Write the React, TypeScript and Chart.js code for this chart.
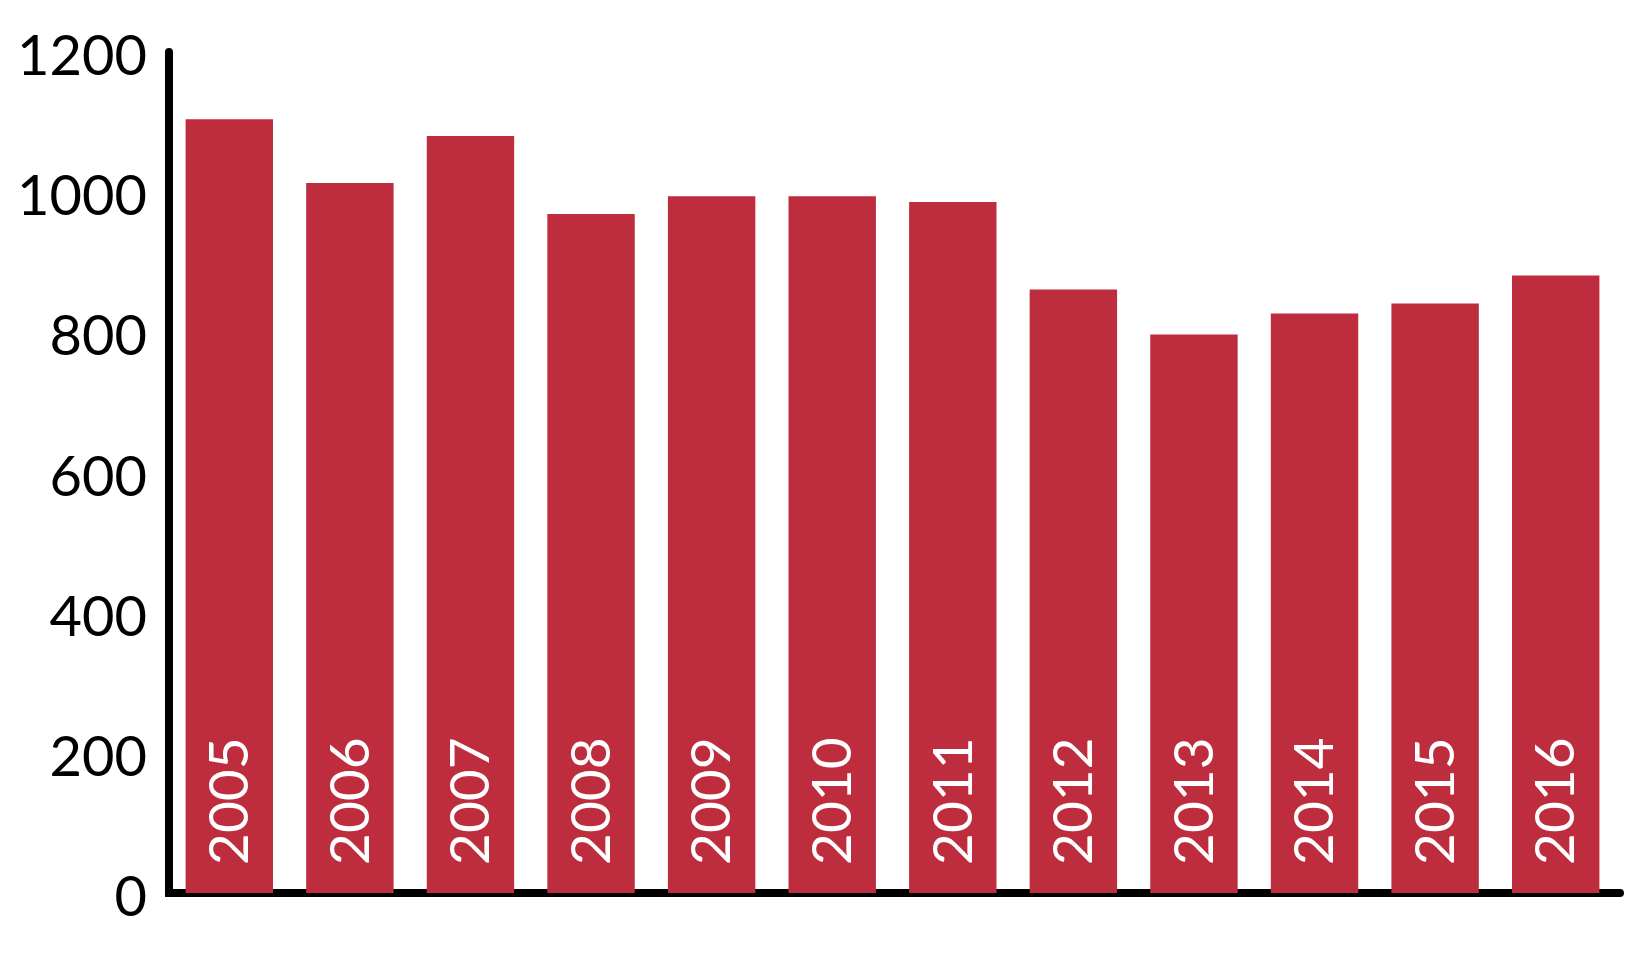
import React, { useEffect, useRef } from "react";
import { Chart, registerables } from "chart.js";

Chart.register(...registerables);

const years = ["2005", "2006", "2007", "2008", "2009", "2010", "2011", "2012", "2013", "2014", "2015", "2016"];
const values = [1104, 1013, 1080, 969, 994, 994, 986, 861, 797, 827, 841, 881];
const yTicks = [0, 200, 400, 600, 800, 1000, 1200];

const BAR_COLOR = "#BE2D3D";
const FONT = "Lato, 'Open Sans', sans-serif";

const axisLinesPlugin = {
  id: "axisLines",
  beforeDatasetsDraw(chart: any) {
    const { ctx, chartArea } = chart;
    ctx.save();
    ctx.strokeStyle = "#000";
    ctx.lineWidth = 8;
    ctx.lineCap = "round";
    ctx.lineJoin = "miter";
    ctx.beginPath();
    ctx.moveTo(chartArea.left, chartArea.top);
    ctx.lineTo(chartArea.left, chartArea.bottom);
    ctx.lineTo(chartArea.right + 4, chartArea.bottom);
    ctx.stroke();
    ctx.restore();
  },
};

const yearLabelsPlugin = {
  id: "yearLabels",
  afterDatasetsDraw(chart: any) {
    const { ctx, chartArea } = chart;
    const meta = chart.getDatasetMeta(0);
    const labels = chart.data.labels as string[];
    ctx.save();
    ctx.fillStyle = "#fff";
    ctx.font = `55px ${FONT}`;
    ctx.textAlign = "left";
    ctx.textBaseline = "middle";
    meta.data.forEach((bar: any, i: number) => {
      ctx.save();
      ctx.translate(bar.x + 1, chartArea.bottom - 28);
      ctx.rotate(-Math.PI / 2);
      ctx.fillText(labels[i], 0, 0);
      ctx.restore();
    });
    ctx.restore();
  },
};

export default function App() {
  const ref = useRef<HTMLCanvasElement | null>(null);
  useEffect(() => {
    if (!ref.current) return;
    const chart = new Chart(ref.current, {
      type: "bar",
      data: {
        labels: years,
        datasets: [
          {
            data: values,
            backgroundColor: BAR_COLOR,
            borderWidth: 0,
            barPercentage: 0.725,
            categoryPercentage: 1,
          },
        ],
      },
      options: {
        animation: false,
        responsive: false,
        maintainAspectRatio: false,
        layout: { padding: { top: 52, bottom: 61, left: 0, right: 36 } },
        plugins: { legend: { display: false }, tooltip: { enabled: false } },
        scales: {
          x: { display: false },
          y: {
            min: 0,
            max: 1200,
            afterFit: (scale: any) => {
              scale.width = 169;
              scale.paddingTop = 0;
              scale.paddingBottom = 0;
            },
            afterBuildTicks: (scale: any) => {
              scale.ticks = yTicks.map((v) => ({ value: v }));
            },
            grid: { display: false, drawTicks: false },
            border: { display: false },
            ticks: {
              color: "#000",
              padding: 22,
              labelOffset: 5,
              font: { family: FONT, size: 56 },
              callback: (v: any) => String(v),
            },
          },
        },
      },
      plugins: [axisLinesPlugin, yearLabelsPlugin],
    });
    return () => chart.destroy();
  }, []);
  return (
    <div style={{ position: "fixed", left: 0, top: 0, width: 1652, height: 954, background: "#fff" }}>
      <canvas ref={ref} width={1652} height={954} style={{ width: 1652, height: 954, display: "block" }} />
    </div>
  );
}
